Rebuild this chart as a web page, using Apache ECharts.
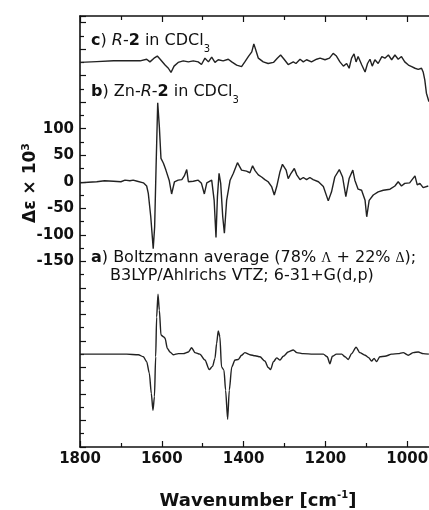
<!DOCTYPE html>
<html>
<head>
<meta charset="utf-8">
<script src="https://cdn.jsdelivr.net/npm/echarts@6/dist/echarts.min.js"></script>
<style>
html,body{margin:0;padding:0;background:#fff;}
#chart{width:429px;height:510px;}
</style>
</head>
<body>
<div id="chart"></div>
<script>
// x ticks and y tick labels
const xTickLabels = [1800, 1600, 1400, 1200, 1000];
const yTickLabels = [100, 50, 0, -50, -100, -150];

// b) Zn-R-2 in CDCl3 (Δε × 10^3)
const wnB = [1800,1780,1759,1740,1718,1700,1690,1678,1670,1660,1645,1637,1633,1627,1621,1617.5,1614,1610,1606,1602,1596,1590,1582,1576,1569,1560,1551,1545,1539,1535,1523,1511,1503,1496,1490,1478,1472,1467.5,1464,1460,1456,1451,1447,1441.5,1433,1425,1415,1405,1393,1384.5,1378,1372,1364,1356,1348,1340,1331.5,1325,1319,1311,1305,1296,1291,1284,1276,1270,1262,1254,1246,1238,1230,1217,1205,1193,1185,1177,1166,1158,1150,1142,1133,1128,1120,1111.5,1103,1099,1093,1083,1071,1058.5,1042,1030,1022,1014,1006,994,981,975.5,969,961,948.5];
const valB = [-2,-1,0,2,1,0,3,2,3,1,-2,-8,-22,-66,-126,-85,28,149,104,44,35,22,3,-23,0,3,4,11,23,0,1,3,-3,-23,-2,3,-35,-105,-28,16,-3,-66,-97,-35,3,16,36,22,20,17,30,21,13,9,4,0,-9,-25,-9,19,33,22,6,16,25,13,4,8,4,8,4,0,-9,-36,-19,9,23,9,-28,6,22,3,-14,-16,-35,-66,-35,-25,-19,-16,-14,-8,0,-8,-3,-2,11,-6,-3,-11,-8];

// c) R-2 in CDCl3 (relative to its own baseline)
const wnC = [1800,1759,1718,1678,1653,1637,1629,1619,1611,1604,1592,1584,1577.5,1570,1560,1547.5,1535,1523,1511,1503,1494.5,1486,1478,1470,1462,1450,1437.5,1429,1417,1405,1397,1388.5,1380,1375,1370,1364,1352,1340,1327,1317.6,1309.5,1301,1291,1278.5,1272,1262,1254,1246,1234,1221.5,1213,1201,1190,1181,1173,1164.5,1156,1148,1142,1136,1130,1125,1120,1111,1103,1097,1091,1085.5,1079,1071,1062,1054.5,1046,1038,1030,1022,1014,1006,997,989,981,973,965,961,957,953,947];
const valC = [0,1.5,3,3,3,6,1,8,12,6,-5,-11,-19,-7,0,3,1,3,1,-4,8,1,10,0,5,3,6,1,-5,-8,1,11,20,35,23,8,1,-2,0,8,14,6,-4,1,-2,6,1,5,1,6,8,5,8,17,12,1,-7,-2,-11,8,16,1,11,-5,-18,-2,6,-7,5,-2,11,8,14,5,14,6,11,1,-5,-8,-11,-13,-11,-18,-33,-58,-74];

// a) Boltzmann average, calculated (relative to its own baseline)
const wnA = [1800,1718,1686,1657.4,1645,1637,1630.5,1625.6,1621.6,1618,1615,1612.6,1609.3,1606,1602,1596,1592,1586.5,1580,1572,1559.6,1547.4,1535,1527,1519,1507,1494.5,1484,1476,1470,1466,1462,1458,1454,1448,1444,1439,1435,1429,1421,1413,1405,1397,1384.5,1372,1360,1348,1340,1334,1327,1319,1311,1303,1291,1278.5,1270,1254,1230,1205,1195.4,1189,1183,1173,1160,1152,1144,1136,1125,1116,1103,1095,1087,1081,1075,1067,1054.5,1038,1022,1010,997.4,985,973,961,947];
const valA = [0,0,0,-1,-5,-14,-36,-74,-106,-80,-5,70,113,83,36,33,30,11,4,-1,1,1,4,12,3,0,-11,-29,-23,-8,20,44,33,-24,-30,-68,-123,-68,-24,-11,-10,-2,3,-1,-3,-5,-13,-25,-29,-14,-7,-11,-4,4,8,3,1,0,0,-5,-18,-4,0,0,-5,-10,1,13,3,-2,-6,-13,-8,-14,-5,-4,0,1,3,-2,3,4,1,0];

// vertical offsets of the stacked spectra
const offsetC = 225;
const offsetB = 0;
const offsetA = -325;

function pairs(wn, v, off) { return wn.map((w, i) => [w, v[i] + off]); }

const chart = echarts.init(document.getElementById('chart'), null, {renderer: 'canvas'});
const FONT = 'DejaVu Sans';
const lineCol = '#222';

const xAxisCommon = {
  type: 'value', min: 800, max: 1800, interval: 200, inverse: true,
  axisLine: {show: true, onZero: false, lineStyle: {color: '#111', width: 1.6}},
  axisTick: {show: true, inside: true, length: 6, lineStyle: {color: '#111', width: 1.2}},
  minorTick: {show: true, splitNumber: 2, length: 4, lineStyle: {color: '#111', width: 1.2}},
  splitLine: {show: false}
};

const option = {
  animation: false,
  backgroundColor: '#fff',
  grid: {left: 80, top: 16, width: 409, height: 431, containLabel: false, outerBoundsMode: 'none'},
  xAxis: [
    Object.assign({}, xAxisCommon, {
      position: 'bottom',
      axisLabel: {show: true, margin: 5, color: '#111', fontFamily: FONT, fontWeight: 'bold', fontSize: 15,
        formatter: v => (xTickLabels.indexOf(v) >= 0 ? String(v) : '')}
    }),
    Object.assign({}, xAxisCommon, {position: 'top', axisLabel: {show: false}})
  ],
  yAxis: {
    type: 'value', min: -500, max: 312.5, interval: 50,
    axisLine: {show: true, onZero: false, lineStyle: {color: '#111', width: 1.6}},
    axisTick: {show: true, inside: true, length: 6, lineStyle: {color: '#111', width: 1.2}},
    minorTick: {show: true, splitNumber: 2, length: 4, lineStyle: {color: '#111', width: 1.2}},
    splitLine: {show: false},
    axisLabel: {show: true, margin: 6, color: '#111', fontFamily: FONT, fontWeight: 'bold', fontSize: 15,
      showMaxLabel: false,
      formatter: v => (yTickLabels.indexOf(v) >= 0 ? String(v) : '')}
  },
  series: [
    {type: 'line', data: pairs(wnC, valC, offsetC), showSymbol: false, lineStyle: {color: lineCol, width: 1.4}, clip: true},
    {type: 'line', data: pairs(wnB, valB, offsetB), showSymbol: false, lineStyle: {color: lineCol, width: 1.4}, clip: true},
    {type: 'line', data: pairs(wnA, valA, offsetA), showSymbol: false, smooth: 0.25, smoothMonotone: 'x', lineStyle: {color: lineCol, width: 1.4}, clip: true}
  ],
  graphic: [
    {type: 'text', left: 91, top: 33, style: {
      text: '{b|c}{r|) }{i|R}{r|-}{b|2}{r| in CDCl}{sub|3}',
      rich: {
        b: {fontFamily: FONT, fontWeight: 'bold', fontSize: 16, fill: '#111', lineHeight: 20},
        r: {fontFamily: FONT, fontSize: 16, fill: '#111', lineHeight: 20},
        i: {fontFamily: FONT, fontStyle: 'italic', fontSize: 16, fill: '#111', lineHeight: 20},
        sub: {fontFamily: FONT, fontSize: 10, fill: '#111', verticalAlign: 'bottom', lineHeight: 10, padding: [0, 0, -3, 0]}
      }}},
    {type: 'text', left: 91, top: 84, style: {
      text: '{b|b}{r|) Zn-}{i|R}{r|-}{b|2}{r| in CDCl}{sub|3}',
      rich: {
        b: {fontFamily: FONT, fontWeight: 'bold', fontSize: 16, fill: '#111', lineHeight: 20},
        r: {fontFamily: FONT, fontSize: 16, fill: '#111', lineHeight: 20},
        i: {fontFamily: FONT, fontStyle: 'italic', fontSize: 16, fill: '#111', lineHeight: 20},
        sub: {fontFamily: FONT, fontSize: 10, fill: '#111', verticalAlign: 'bottom', lineHeight: 10, padding: [0, 0, -3, 0]}
      }}},
    {type: 'text', left: 91, top: 250, style: {
      text: '{b|a}{r|) Boltzmann average (78% }{g|Λ}{r| + 22% }{g|Δ}{r|);}',
      rich: {
        b: {fontFamily: FONT, fontWeight: 'bold', fontSize: 16, fill: '#111', lineHeight: 20},
        r: {fontFamily: FONT, fontSize: 16, fill: '#111', lineHeight: 20},
        g: {fontFamily: 'Liberation Serif', fontSize: 14, fill: '#111', lineHeight: 20}
      }}},
    {type: 'text', left: 110, top: 268, style: {
      text: 'B3LYP/Ahlrichs VTZ; 6-31+G(d,p)',
      fontFamily: FONT, fontSize: 16, fill: '#111'}},
    {type: 'text', x: 31, y: 183, rotation: Math.PI / 2, style: {
      text: '{b|Δε × 10}{sup|3}', align: 'center', verticalAlign: 'middle',
      rich: {
        b: {fontFamily: FONT, fontWeight: 'bold', fontSize: 17, fill: '#111', lineHeight: 20},
        sup: {fontFamily: FONT, fontWeight: 'bold', fontSize: 11, fill: '#111', verticalAlign: 'top', lineHeight: 11}
      }}},
    {type: 'text', x: 258, y: 501, style: {
      text: '{b|Wavenumber [cm}{sup|-1}{b|]}', align: 'center', verticalAlign: 'middle',
      rich: {
        b: {fontFamily: FONT, fontWeight: 'bold', fontSize: 18, fill: '#111', lineHeight: 22},
        sup: {fontFamily: FONT, fontWeight: 'bold', fontSize: 10, fill: '#111', verticalAlign: 'top', lineHeight: 10}
      }}}
  ]
};
chart.setOption(option);
</script>
</body>
</html>
